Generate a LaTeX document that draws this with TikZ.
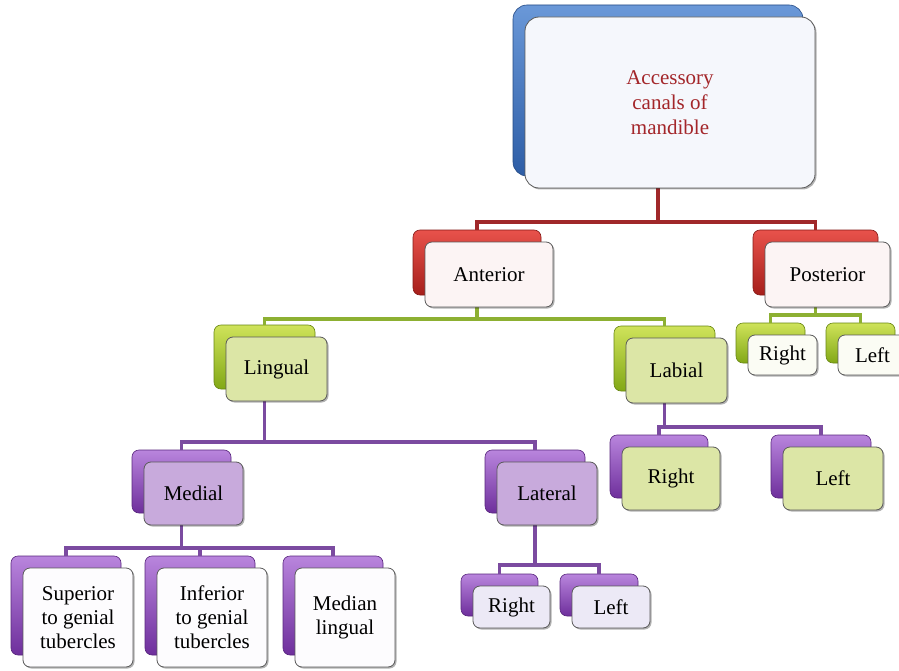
\documentclass[tikz,border=0pt]{standalone}
\usepackage{fontspec}
\setmainfont{Liberation Serif}
\usetikzlibrary{shadows}
\pgfdeclarelayer{bg}\pgfdeclarelayer{bk}\pgfdeclarelayer{ln}\pgfsetlayers{bg,bk,ln,main}
\definecolor{blueT}{HTML}{6A98D8}\definecolor{blueB}{HTML}{2D5DA6}
\definecolor{redT}{HTML}{E8524B}\definecolor{redB}{HTML}{A61F1B}
\definecolor{greenT}{HTML}{CFE35A}\definecolor{greenB}{HTML}{82A816}
\definecolor{purT}{HTML}{B985DD}\definecolor{purB}{HTML}{6E2F9C}
\definecolor{lnRed}{HTML}{A0282A}\definecolor{lnGreen}{HTML}{8DB032}\definecolor{lnPur}{HTML}{7B4BA0}
\definecolor{fBlue}{HTML}{F5F7FC}\definecolor{fRed}{HTML}{FCF4F4}
\definecolor{fGreen}{HTML}{DCE6A6}\definecolor{fGreenW}{HTML}{FBFCF4}
\definecolor{fPur}{HTML}{C8AADC}\definecolor{fPurW}{HTML}{FDFCFE}\definecolor{fLav}{HTML}{ECE9F6}
\definecolor{frameGray}{HTML}{5A5A5A}\definecolor{rootText}{HTML}{A3262A}
\newcommand\mybox[8]{%
  \begin{pgfonlayer}{bk}\node[#6, minimum width=#4pt, minimum height=#5pt] (#1B) at (#2-12,#3-12) {};\end{pgfonlayer}
  \node[frontbox, #7, minimum width=#4pt, minimum height=#5pt] (#1) at (#2,#3) {#8};}
\begin{document}
\begin{tikzpicture}[x=1pt,y=-1pt,
  backbox/.style={rectangle, rounded corners=7pt, line width=0.6pt},
  bkblue/.style={backbox, top color=blueT, bottom color=blueB, draw=blueB!80!black, rounded corners=14pt},
  bkred/.style={backbox, top color=redT, bottom color=redB, draw=redB!80!black},
  bkgreen/.style={backbox, top color=greenT, bottom color=greenB, draw=greenB!80!black},
  bkpur/.style={backbox, top color=purT, bottom color=purB, draw=purB!80!black},
  frontbox/.style={rectangle, rounded corners=7pt, draw=frameGray, line width=0.8pt,
    drop shadow={shadow xshift=1.5pt, shadow yshift=-1.5pt, opacity=0.3, fill=black},
    font=\fontsize{21}{24}\selectfont, align=center, inner sep=2pt, text=black},
  redln/.style={draw=lnRed, line width=3.5pt},
  greenln/.style={draw=lnGreen, line width=3.5pt},
  purln/.style={draw=lnPur, line width=3.5pt}]
\useasboundingbox (0,0) rectangle (899,671);
\begin{pgfonlayer}{bg}
\fill[white] (0,0) rectangle (899,671);
\end{pgfonlayer}
\clip (0,0) rectangle (899,671);
% nodes
\mybox{root}{670}{102.5}{290}{171}{bkblue}{fill=fBlue, rounded corners=14pt, text=rootText, font=\fontsize{21}{25}\selectfont}{Accessory\\canals of\\mandible}
\mybox{ant}{489}{274.5}{128}{65}{bkred}{fill=fRed}{Anterior}
\mybox{post}{827.5}{274.5}{125}{65}{bkred}{fill=fRed}{Posterior}
\mybox{ling}{276.5}{369}{101}{64}{bkgreen}{fill=fGreen}{Lingual}
\mybox{lab}{676.5}{370.5}{101}{65}{bkgreen}{fill=fGreen}{Labial}
\mybox{pr}{782.5}{355}{69}{40}{bkgreen}{fill=fGreenW}{Right}
\mybox{pl}{872.5}{355}{69}{40}{bkgreen}{fill=fGreenW}{Left}
\mybox{lr}{671}{478.5}{98}{63}{bkpur}{fill=fGreen}{Right}
\mybox{ll}{833}{478.5}{100}{63}{bkpur}{fill=fGreen}{Left}
\mybox{med}{193.5}{493.5}{99}{63}{bkpur}{fill=fPur}{Medial}
\mybox{lat}{547}{493.5}{100}{63}{bkpur}{fill=fPur}{Lateral}
\mybox{sup}{78}{617.5}{110}{99}{bkpur}{fill=fPurW}{Superior\\to genial\\tubercles}
\mybox{inf}{212}{617.5}{110}{99}{bkpur}{fill=fPurW}{Inferior\\to genial\\tubercles}
\mybox{ml}{345}{617.5}{100}{99}{bkpur}{fill=fPurW}{Median\\lingual}
\mybox{latr}{511.5}{607}{77}{42}{bkpur}{fill=fLav}{Right}
\mybox{latl}{611}{607}{78}{42}{bkpur}{fill=fLav}{Left}
% bar levels
\coordinate (barR) at (0,222);
\coordinate (barA) at (0,319);
\coordinate (barP) at (0,315);
\coordinate (barL) at (0,442);
\coordinate (barB) at (0,427);
\coordinate (barM) at (0,548);
\coordinate (barT) at (0,565);
\begin{pgfonlayer}{ln}
\draw[redln] (rootB.south) -- (rootB.south |- barR);
\draw[redln] (antB.north) |- (postB.north |- barR) -- (postB.north);
\draw[greenln] (antB.south) -- (antB.south |- barA);
\draw[greenln] (lingB.north) |- (labB.north |- barA) -- (labB.north);
\draw[greenln] (postB.south) -- (postB.south |- barP);
\draw[greenln] (prB.north) |- (plB.north |- barP) -- (plB.north);
\draw[purln] (lingB.south) -- (lingB.south |- barL);
\draw[purln] (medB.north) |- (latB.north |- barL) -- (latB.north);
\draw[purln] (labB.south) -- (labB.south |- barB);
\draw[purln] (lrB.north) |- (llB.north |- barB) -- (llB.north);
\draw[purln] (medB.south) -- (medB.south |- barM);
\draw[purln] (supB.north) |- (mlB.north |- barM) -- (mlB.north);
\draw[purln] (infB.north) -- (infB.north |- barM);
\draw[purln] (latB.south) -- (latB.south |- barT);
\draw[purln] (latrB.north) |- (latlB.north |- barT) -- (latlB.north);
\end{pgfonlayer}
\end{tikzpicture}
\end{document}
